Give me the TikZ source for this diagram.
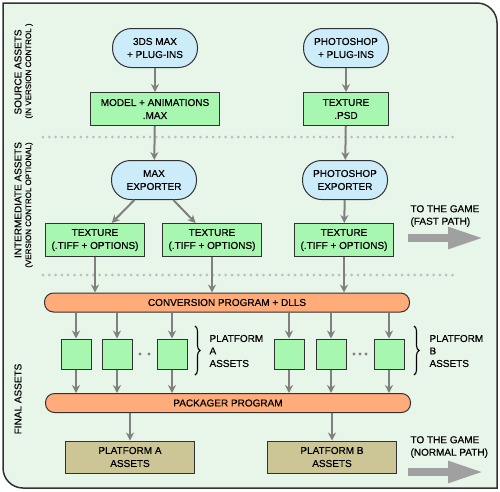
\documentclass[tikz,border=0pt]{standalone}
\usepackage{fontspec}
\setmainfont{Liberation Sans}[FakeBold=0.4]
\usetikzlibrary{arrows.meta,decorations.pathreplacing}

\definecolor{bgmint}{RGB}{232,245,233}
\definecolor{framegray}{RGB}{50,50,50}
\definecolor{toolblue}{RGB}{204,236,250}
\definecolor{filegreen}{RGB}{168,247,176}
\definecolor{progorange}{RGB}{255,172,122}
\definecolor{pkgolive}{RGB}{204,198,150}
\definecolor{arrowgray}{RGB}{128,128,128}
\definecolor{biggray}{RGB}{160,160,160}
\definecolor{dotgray}{RGB}{190,190,190}

\tikzset{
  tool/.style={draw=framegray, fill=toolblue, line width=1pt, rounded corners=19pt,
    minimum width=85pt, minimum height=39pt, align=center, inner sep=2pt},
  file/.style={draw=framegray, fill=filegreen, line width=1pt,
    minimum height=33pt, align=center, inner sep=2pt},
  prog/.style={draw=framegray, fill=progorange, line width=1pt, rounded corners=9pt,
    minimum width=365pt, minimum height=19pt, inner sep=1pt},
  asset/.style={draw=framegray, fill=filegreen, line width=1pt, minimum size=30pt, inner sep=0pt},
  pkg/.style={draw=framegray, fill=pkgolive, line width=1pt,
    minimum width=129pt, minimum height=32pt, align=center, inner sep=2pt},
  conn/.style={draw=arrowgray, line width=2pt, -{Stealth[length=8pt,width=8pt]}},
  sep/.style={draw=dotgray, line width=3pt, line cap=round, dash pattern=on 0pt off 6.3pt},
  bigarrow/.style={draw=biggray, line width=8pt, -{Triangle[length=36pt,width=20pt]}},
  side/.style={rotate=90, font=\fontsize{10}{12}\selectfont},
  sidenote/.style={rotate=90, font=\fontsize{8}{9}\selectfont},
  note/.style={anchor=west, align=left, font=\fontsize{10}{12.5}\selectfont},
  bracket/.style={draw=black, line width=1.1pt, decorate, decoration={brace, amplitude=5pt}},
}

\begin{document}
\begin{tikzpicture}[x=1pt, y=-1pt, font=\fontsize{10}{13}\selectfont]
\useasboundingbox (0,0) rectangle (500,491);
% frame
\draw[line width=1.5pt, draw=framegray, fill=bgmint]
  (3,3) -- (477,3) arc[start angle=-90, end angle=0, radius=20] -- (497,488)
  -- (23,488) arc[start angle=90, end angle=180, radius=20] -- cycle;

% stage labels
\node[side] (srclbl) at (18,72) {SOURCE ASSETS};
\node[sidenote] (srcnote) at (29,71) {(IN VERSION CONTROL )};
\node[side] (midlbl) at (18,200) {INTERMEDIATE ASSETS};
\node[sidenote] (midnote) at (29,205) {(VERSION CONTROL OPTIONAL)};
\node[side] (finlbl) at (18,399) {FINAL ASSETS};

% separators
\draw[sep] (43,137) -- (455,137);
\draw[sep] (43,275) -- (455,275);

% source
\node[tool] (maxapp) at (155,48) {3DS MAX\\+ PLUG-INS};
\node[tool] (psapp) at (346,48) {PHOTOSHOP\\+ PLUG-INS};
\node[file, minimum width=129pt] (maxfile) at (155,109) {MODEL + ANIMATIONS\\.MAX};
\node[file, minimum width=85pt] (psdfile) at (346,109) {TEXTURE\\.PSD};

% intermediate
\node[tool] (maxexp) at (154,180) {MAX\\EXPORTER};
\node[tool] (psexp) at (345,180) {PHOTOSHOP\\EXPORTER};
\node[file, minimum width=99pt] (tiffA) at (95,240) {TEXTURE\\(.TIFF + OPTIONS)};
\node[file, minimum width=99pt] (tiffB) at (212,240) {TEXTURE\\(.TIFF + OPTIONS)};
\node[file, minimum width=99pt] (tiffC) at (344,240) {TEXTURE\\(.TIFF + OPTIONS)};

% final
\node[prog] (convert) at (227,302.5) {CONVERSION PROGRAM + DLLS};
\node[asset] (sqA1) at (76,354) {};
\node[asset] (sqA2) at (117,354) {};
\node[asset] (sqA3) at (172,354) {};
\node[asset] (sqB1) at (289,354) {};
\node[asset] (sqB2) at (331,354) {};
\node[asset] (sqB3) at (389,354) {};
\node[prog] (packager) at (228,403) {PACKAGER PROGRAM};
\node[pkg] (platA) at (130,457) {PLATFORM A\\ASSETS};
\node[pkg] (platB) at (332,457) {PLATFORM B\\ASSETS};

% dots between asset squares
\fill[arrowgray] (140,354) circle (1.6pt) (149,354) circle (1.6pt);
\fill[arrowgray] (354,354) circle (1.6pt) (360,354) circle (1.6pt) (366,354) circle (1.6pt);

% brackets
\draw[bracket] (195,326) -- (195,375);
\node[note] (platAlbl) at (206,351) {PLATFORM\\A\\ASSETS};
\draw[bracket] (414,326) -- (414,375);
\node[note] (platBlbl) at (426,351) {PLATFORM\\B\\ASSETS};

% to the game
\node[note] (fastlbl) at (407,216) {TO THE GAME\\(FAST PATH)};
\coordinate (fastS) at (408,238);
\coordinate (fastE) at (484,238);
\draw[bigarrow] (fastS) -- (fastE);
\node[note] (normlbl) at (407,447) {TO THE GAME\\(NORMAL PATH)};
\coordinate (normS) at (408,472);
\coordinate (normE) at (484,472);
\draw[bigarrow] (normS) -- (normE);

% connectors
\draw[conn] (maxapp) -- (maxfile);
\draw[conn] (psapp) -- (psdfile);
\draw[conn] (maxfile) -- (maxexp);
\draw[conn] (psdfile) -- (psexp);
\draw[conn] (maxexp) -- (tiffA);
\draw[conn] (maxexp) -- (tiffB);
\draw[conn] (psexp) -- (tiffC);
\draw[conn] (tiffA) -- (tiffA |- convert.north);
\draw[conn] (tiffB) -- (tiffB |- convert.north);
\draw[conn] (tiffC) -- (tiffC |- convert.north);
\foreach \sq in {sqA1,sqA2,sqA3,sqB1,sqB2,sqB3} {
  \draw[conn] (\sq |- convert.south) -- (\sq);
  \draw[conn] (\sq) -- (\sq |- packager.north);
}
\draw[conn] (platA |- packager.south) -- (platA);
\draw[conn] (platB |- packager.south) -- (platB);
\end{tikzpicture}
\end{document}
